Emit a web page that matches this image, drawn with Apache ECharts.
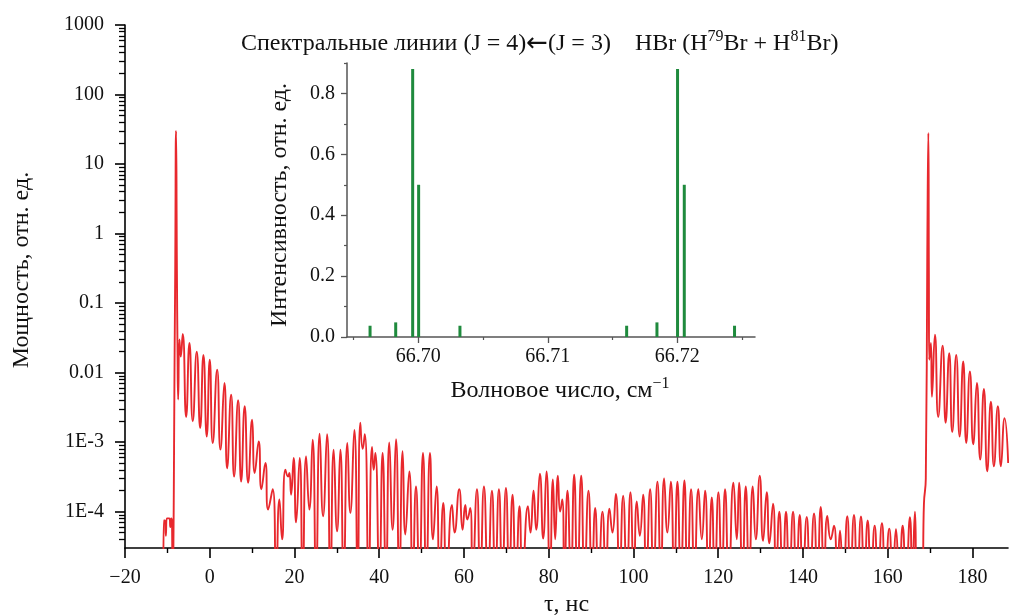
<!DOCTYPE html>
<html>
<head>
<meta charset="utf-8">
<script src="https://cdn.jsdelivr.net/npm/echarts@6/dist/echarts.min.js"></script>
<style>
html, body { margin: 0; padding: 0; background: #fff; }
#chart { width: 1009px; height: 616px; }
</style>
</head>
<body>
<div id="chart"></div>
<script>
const FONT = '"Liberation Serif", "Times New Roman", serif';

// τ (нс), мощность — первый импульс и его спад
const pulseA = [
    [-10.95, 1e-5], [-10.85, 7.5e-5], [-10.55, 7.5e-5], [-10.35, 4.5e-5], [-10.15, 8e-5], [-9.5, 8e-5],
    [-9.3, 6e-5], [-9.1, 8e-5], [-8.9, 7e-5], [-8.8, 1e-5], [-8.2, 0.1], [-7.95, 30], [-7.75, 0.3],
    [-7.6, 0.02], [-7.45, 0.0041], [-7.15, 0.030], [-6.84, 0.017], [-6.37, 0.036], [-5.57, 0.0023],
    [-4.79, 0.0266], [-4.01, 0.0020], [-3.07, 0.020], [-2.26, 0.0016], [-1.49, 0.018], [-0.71, 0.0012],
    [0.0, 0.0153], [0.71, 0.00097], [1.75, 0.011], [2.52, 0.00078], [3.47, 0.0071], [4.10, 0.00042],
    [5.05, 0.0048], [5.75, 0.00032], [6.70, 0.0040], [7.41, 0.00027], [8.25, 0.0033], [9.06, 0.00026],
    [10.0, 0.0021], [10.61, 0.00036], [11.56, 0.00102], [12.19, 0.00021], [13.14, 0.0005], [13.77, 0.000107],
    [14.86, 0.00021], [15.66, 1e-5], [16.44, 0.00015], [17.08, 4e-5], [17.85, 0.0004], [18.49, 0.00032],
    [18.8, 0.00036], [19.2, 0.000175], [19.81, 0.00059], [20.38, 7e-5], [21.23, 0.00059], [21.93, 1e-5],
    [22.74, 0.00062], [23.51, 0.000107], [24.29, 0.00108], [25.09, 1e-5], [25.94, 0.00132], [26.75, 8.6e-5],
    [27.69, 0.0013], [28.47, 1e-5], [29.25, 0.00078], [30.05, 5.2e-5], [30.83, 0.00078], [31.6, 1e-5],
    [32.48, 0.00097], [33.18, 9.6e-5], [34.13, 0.0015], [34.91, 1e-5], [35.54, 0.0019], [36.1, 0.0008],
    [36.6, 0.0013], [37.5, 1e-5], [38.3, 0.00085], [38.7, 0.0004], [39.08, 0.0007], [40.02, 1e-5]
];
const pulseB = [
    [40.8, 0.0007], [41.6, 1e-5], [42.38, 0.00099], [43.16, 5.5e-5], [43.96, 0.0011], [44.74, 1e-5],
    [45.52, 0.00074], [46.16, 4.7e-5], [47.1, 0.00038], [47.88, 1e-5], [48.68, 0.00023], [49.46, 1e-5],
    [50.33, 0.0007], [51.11, 1e-5], [51.98, 0.0007], [52.69, 4e-5], [53.54, 0.00023], [54.25, 1e-5],
    [55.12, 0.000133], [55.9, 1e-5], [57.17, 0.000125], [57.78, 5e-5], [58.89, 0.00021], [59.67, 5.5e-5],
    [60.31, 0.000125], [60.78, 7.7e-5], [61.49, 0.000113], [62.03, 1e-5], [63.07, 0.00021], [63.84, 1e-5],
    [64.72, 0.00023], [65.66, 1e-5], [66.6, 0.0002], [67.38, 1e-5], [68.25, 0.00021], [69.03, 1e-5],
    [69.91, 0.00022], [70.68, 1e-5], [71.46, 0.000175], [72.26, 1e-5], [73.11, 0.00012], [73.82, 1e-5],
    [75.09, 0.00012], [75.71, 5e-5], [76.42, 0.0002], [77.05, 5.5e-5], [77.92, 0.00035], [78.7, 4.1e-5],
    [79.48, 0.00038], [80.28, 1e-5], [80.99, 0.00029], [81.53, 4e-5], [82.17, 0.00033], [82.7, 0.0001],
    [83.2, 0.00015], [83.7, 1e-5], [84.43, 0.0002], [85.24, 1e-5], [86.01, 0.00034], [86.79, 1e-5],
    [87.67, 0.00033], [88.44, 1e-5], [89.39, 0.0002], [90.19, 1e-5]
];
const pulseC = [
    [90.97, 0.000113], [91.75, 1e-5], [92.69, 0.0001], [93.49, 1e-5], [94.34, 0.00011], [95.05, 5e-5],
    [95.85, 0.00018], [96.7, 1e-5], [97.57, 0.00017], [98.44, 1e-5], [99.29, 0.00019], [100.09, 1e-5],
    [100.8, 0.00014], [101.51, 4.5e-5], [102.29, 0.000175], [103.0, 1e-5], [103.94, 0.00021], [104.72, 1e-5],
    [105.66, 0.00027], [106.46, 1e-5], [107.24, 0.0003], [108.02, 5e-5], [108.82, 0.00027], [109.6, 1e-5],
    [110.38, 0.00027], [111.18, 1e-5], [112.03, 0.00028], [112.74, 1e-5], [113.61, 0.00021], [114.39, 1e-5],
    [115.33, 0.00021], [116.13, 4e-5], [116.91, 0.0002], [117.69, 1e-5], [118.49, 0.00016], [119.2, 1e-5],
    [120.05, 0.00019], [120.85, 1e-5], [121.63, 0.00021], [122.5, 1e-5], [123.6, 0.00026], [124.39, 4e-5],
    [124.93, 0.00026], [125.71, 1e-5], [126.51, 0.00023], [127.29, 1e-5], [128.16, 0.00023], [128.87, 4e-5],
    [129.81, 0.00033], [130.59, 3.8e-5], [131.46, 0.00019], [132.08, 3.5e-5], [132.95, 0.00013], [133.66, 1e-5],
    [134.43, 0.0001], [135.24, 1e-5], [136.01, 0.0001], [136.79, 1e-5], [137.67, 0.0001], [138.44, 1e-5],
    [139.25, 9e-5], [139.95, 1e-5], [140.9, 8.4e-5]
];
// хвост и второй импульс
const pulseD = [
    [141.67, 1e-5], [142.62, 9.4e-5], [143.4, 1e-5], [144.2, 0.000117], [144.98, 1e-5], [145.75, 8.7e-5],
    [146.56, 4e-5], [147.33, 6.3e-5], [148.11, 1e-5], [148.75, 5.3e-5], [149.53, 1e-5], [150.47, 8.6e-5],
    [151.18, 1e-5], [152.05, 9e-5], [152.83, 1e-5], [153.7, 8.5e-5], [154.48, 1e-5], [155.28, 7.5e-5],
    [156.06, 1e-5], [156.93, 6.3e-5], [157.71, 1e-5], [158.65, 6.8e-5], [159.43, 1e-5], [160.38, 5.7e-5],
    [161.18, 1e-5], [161.96, 5.6e-5], [162.74, 1e-5], [163.54, 6.3e-5], [164.32, 1e-5], [165.26, 8.3e-5],
    [165.8, 1e-5], [166.44, 0.0001], [166.98, 1e-5], [168.2, 1e-5], [168.56, 0.00013], [169.0, 0.0003],
    [169.35, 0.5], [169.6, 28], [169.72, 0.3], [169.81, 0.0153], [170.21, 0.0266], [170.45, 0.0045],
    [171.16, 0.035], [171.93, 0.0023], [172.97, 0.0243], [173.68, 0.0019], [174.53, 0.019], [175.24, 0.0014],
    [176.18, 0.018], [176.98, 0.0012], [177.83, 0.0145], [178.54, 0.00097], [179.41, 0.0104], [180.19, 0.00093],
    [181.06, 0.0071], [181.84, 0.00056], [182.71, 0.0058], [183.49, 0.00038], [184.36, 0.0038], [185.07, 0.00045],
    [186.01, 0.0033], [186.72, 0.00045], [187.59, 0.0022], [188.44, 0.0005]
];

// вставка: спектральные линии HBr
const waveNumbers = [66.69628, 66.69826, 66.69957, 66.70003, 66.70322, 66.71609, 66.71843, 66.72002, 66.72054, 66.72442];
const intensities = [0.037, 0.048, 0.88, 0.50, 0.037, 0.037, 0.048, 0.88, 0.50, 0.037];

const tauMajor = [-20, 0, 20, 40, 60, 80, 100, 120, 140, 160, 180];
const tauMinor = [-10, 10, 30, 50, 70, 90, 110, 130, 150, 170];
const powerMajor = [1e-4, 1e-3, 0.01, 0.1, 1, 10, 100, 1000];
const waveMajor = [66.70, 66.71, 66.72];
const waveMinor = [66.695, 66.705, 66.715, 66.725];
const intMajor = [0, 0.2, 0.4, 0.6, 0.8];
const intMinor = [0.1, 0.3, 0.5, 0.7, 0.9];

// промежуточные деления логарифмической оси (2..9 в каждой декаде)
const powerMinor = [];
for (let e = -5; e <= 2; e++) {
    for (let m = 2; m <= 9; m++) {
        const v = m * Math.pow(10, e);
        if (v > 3.1e-5 && v < 1000) powerMinor.push(v);
    }
}

const pulse = pulseA.concat(pulseB, pulseC, pulseD);
const lines = waveNumbers.map((w, i) => [w, intensities[i]]);

function fmtPower(v) {
    const e = Math.round(Math.log10(v));
    if (e >= 0) return '1' + '0'.repeat(e);
    if (e >= -2) return '0.' + '0'.repeat(-e - 1) + '1';
    return '1E' + e;
}

const labelStyle = {color: '#111', fontSize: 20, fontFamily: FONT};
const nameStyle = {color: '#111', fontSize: 24, fontFamily: FONT};
const richText = {
    m: {fontSize: 24, fontFamily: FONT, fontWeight: 'normal', color: '#111', lineHeight: 30},
    a: {fontSize: 26, fontFamily: '"DejaVu Sans"', fontWeight: 'normal', color: '#111', lineHeight: 30},
    s: {fontSize: 16, fontFamily: FONT, fontWeight: 'normal', color: '#111', lineHeight: 18, verticalAlign: 'top'}
};

const myChart = echarts.init(document.getElementById('chart'), null, {renderer: 'canvas'});

const option = {
    animation: false,
    backgroundColor: '#fff',
    textStyle: {fontFamily: FONT},
    title: {
        left: 236,
        top: 24,
        text: '{m|Спектральные линии (J = 4)}{a|←}{m|(J = 3)    HBr (H}{s|79}{m|Br + H}{s|81}{m|Br)}',
        textStyle: {fontWeight: 'normal', rich: richText}
    },
    grid: [
        {left: 125, right: 1, top: 25, bottom: 68, outerBoundsMode: 'none'},
        {left: 347, right: 254, top: 63, bottom: 279, outerBoundsMode: 'none'}
    ],
    xAxis: [
        {
            type: 'value', gridIndex: 0, position: 'bottom',
            min: -20, max: 188.4,
            name: 'τ, нс', nameLocation: 'middle', nameGap: 43,
            nameTextStyle: nameStyle,
            axisLine: {onZero: false, lineStyle: {color: '#000', width: 1.6}},
            axisTick: {length: 10, customValues: tauMajor, lineStyle: {color: '#000', width: 1.6}},
            axisLabel: Object.assign({
                customValues: tauMajor, margin: 20,
                formatter: v => v < 0 ? '−' + Math.abs(v) : String(v)
            }, labelStyle),
            splitLine: {show: false}
        },
        {
            type: 'value', gridIndex: 0, position: 'bottom',
            min: -20, max: 188.4,
            axisLine: {show: false, onZero: false},
            axisTick: {length: 5, customValues: tauMinor, lineStyle: {color: '#000', width: 1.4}},
            axisLabel: {show: false},
            splitLine: {show: false}
        },
        {
            type: 'value', gridIndex: 1, position: 'bottom',
            min: 66.6945, max: 66.726,
            name: '{m|Волновое число, см}{s|−1}', nameLocation: 'middle', nameGap: 39,
            nameTextStyle: {padding: [0, 0, 0, 18], rich: richText},
            axisLine: {onZero: false, lineStyle: {color: '#555', width: 1.5}},
            axisTick: {length: 6, customValues: waveMajor, lineStyle: {color: '#555', width: 1.3}},
            axisLabel: Object.assign({customValues: waveMajor, margin: 10, formatter: v => v.toFixed(2)}, labelStyle),
            splitLine: {show: false}
        },
        {
            type: 'value', gridIndex: 1, position: 'bottom',
            min: 66.6945, max: 66.726,
            axisLine: {show: false, onZero: false},
            axisTick: {length: 3, customValues: waveMinor, lineStyle: {color: '#555', width: 1.2}},
            axisLabel: {show: false},
            splitLine: {show: false}
        }
    ],
    yAxis: [
        {
            type: 'log', logBase: 10, gridIndex: 0, position: 'left',
            min: 3e-5, max: 1000,
            axisLine: {show: true, onZero: false, lineStyle: {color: '#000', width: 1.6}},
            axisTick: {length: 10, customValues: powerMajor, lineStyle: {color: '#000', width: 1.6}},
            axisLabel: Object.assign({customValues: powerMajor, margin: 21, formatter: fmtPower}, labelStyle),
            splitLine: {show: false}
        },
        {
            type: 'log', logBase: 10, gridIndex: 0, position: 'left',
            min: 3e-5, max: 1000,
            axisLine: {show: false, onZero: false},
            axisTick: {length: 6, customValues: powerMinor, lineStyle: {color: '#000', width: 1.3}},
            axisLabel: {show: false},
            splitLine: {show: false}
        },
        {
            type: 'value', gridIndex: 1, position: 'left',
            min: 0, max: 0.9,
            axisLine: {show: true, onZero: false, lineStyle: {color: '#555', width: 1.5}},
            axisTick: {length: 6, customValues: intMajor, lineStyle: {color: '#555', width: 1.3}},
            axisLabel: Object.assign({customValues: intMajor, margin: 12, formatter: v => v.toFixed(1)}, labelStyle),
            splitLine: {show: false}
        },
        {
            type: 'value', gridIndex: 1, position: 'left',
            min: 0, max: 0.9,
            axisLine: {show: false, onZero: false},
            axisTick: {length: 3, customValues: intMinor, lineStyle: {color: '#555', width: 1.2}},
            axisLabel: {show: false},
            splitLine: {show: false}
        }
    ],
    graphic: [
        {
            type: 'text', x: 22, y: 270, rotation: Math.PI / 2,
            style: {text: 'Мощность, отн. ед.', font: '24px ' + FONT, fill: '#111', align: 'center', verticalAlign: 'middle'}
        },
        {
            type: 'text', x: 280, y: 205, rotation: Math.PI / 2,
            style: {text: 'Интенсивность, отн. ед.', font: '24px ' + FONT, fill: '#111', align: 'center', verticalAlign: 'middle'}
        }
    ],
    series: [
        {
            name: 'power',
            type: 'line',
            xAxisIndex: 0,
            yAxisIndex: 0,
            data: pulse,
            showSymbol: false,
            smooth: 0.55,
            clip: true,
            lineStyle: {color: '#e8282d', width: 1.9},
            z: 3
        },
        {
            name: 'HBr',
            type: 'bar',
            xAxisIndex: 2,
            yAxisIndex: 2,
            data: lines,
            barWidth: 3,
            itemStyle: {color: '#1f8a3d'},
            z: 4
        }
    ]
};

option && myChart.setOption(option);
</script>
</body>
</html>
